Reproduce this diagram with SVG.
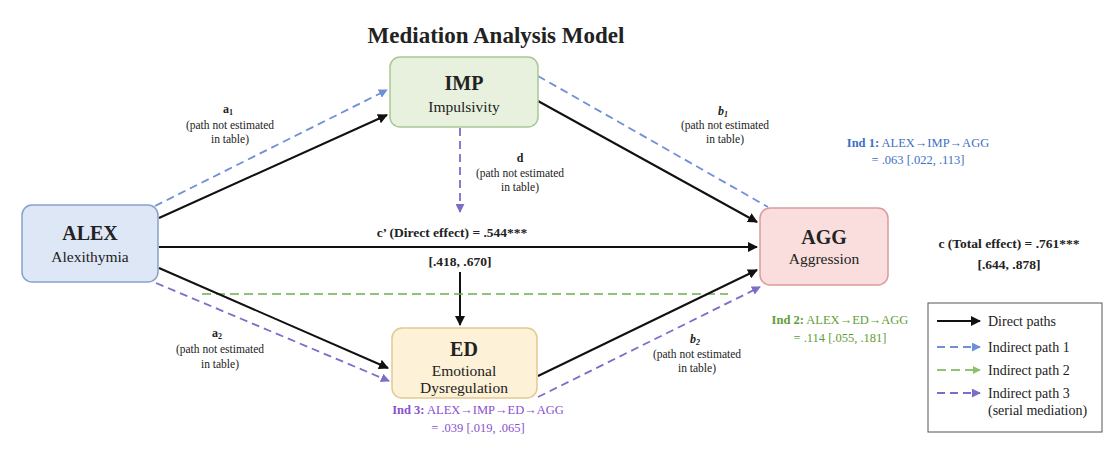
<svg xmlns="http://www.w3.org/2000/svg" width="1110" height="450" viewBox="0 0 1110 450">
<defs>
<marker id="mk" viewBox="0 0 10 10" refX="9" refY="5" markerWidth="5" markerHeight="5" orient="auto" markerUnits="strokeWidth"><path d="M0,0 L10,5 L0,10 z" fill="#111"/></marker>
<marker id="mb" viewBox="0 0 10 10" refX="9" refY="5" markerWidth="5" markerHeight="5" orient="auto" markerUnits="strokeWidth"><path d="M0,0 L10,5 L0,10 z" fill="#6f8fd8"/></marker>
<marker id="mp" viewBox="0 0 10 10" refX="9" refY="5" markerWidth="5" markerHeight="5" orient="auto" markerUnits="strokeWidth"><path d="M0,0 L10,5 L0,10 z" fill="#7a6fc8"/></marker>
<marker id="mg" viewBox="0 0 10 10" refX="9" refY="5" markerWidth="5" markerHeight="5" orient="auto" markerUnits="strokeWidth"><path d="M0,0 L10,5 L0,10 z" fill="#8cc06a"/></marker>
<style>
text{font-family:"Liberation Serif","Times New Roman",serif;fill:#222;text-anchor:middle}
.title{font-size:23px;font-weight:bold}
.nt{font-size:20px;font-weight:bold}
.ns{font-size:15.5px}
.lab{font-size:12px;font-weight:bold}
.sm{font-size:11.5px}
.eff{font-size:13.5px;font-weight:bold}
.ind{font-size:12.5px}
.leg{font-size:14px;text-anchor:start}
.solid{stroke:#111;stroke-width:2;fill:none}
.db{stroke:#6f8fd8;stroke-width:1.8;fill:none;stroke-dasharray:8 5}
.dp{stroke:#7a6fc8;stroke-width:1.8;fill:none;stroke-dasharray:8 5}
.dg{stroke:#6fae4c;stroke-width:1.6;fill:none;stroke-dasharray:9 5}
</style>
</defs>
<rect width="1110" height="450" fill="#fff"/>
<text class="title" x="496" y="43">Mediation Analysis Model</text>

<g id="connectors">
<line class="db" x1="155" y1="206" x2="387" y2="90" marker-end="url(#mb)"/>
<line class="solid" x1="159" y1="218" x2="387" y2="115" marker-end="url(#mk)"/>
<line class="db" x1="538" y1="76" x2="768" y2="207"/>
<line class="solid" x1="538" y1="101" x2="757" y2="222" marker-end="url(#mk)"/>
<line class="solid" x1="159" y1="247" x2="757" y2="247" marker-end="url(#mk)"/>
<line class="dp" x1="460" y1="128" x2="460" y2="212" marker-end="url(#mp)"/>
<line class="solid" x1="460" y1="272" x2="460" y2="325" marker-end="url(#mk)"/>
<line class="dg" x1="202" y1="294" x2="728" y2="294"/>
<line class="solid" x1="159" y1="268" x2="388" y2="368" marker-end="url(#mk)"/>
<line class="dp" x1="156" y1="283" x2="389" y2="381" marker-end="url(#mp)"/>
<line class="solid" x1="538" y1="376" x2="757" y2="270" marker-end="url(#mk)"/>
<line class="dp" x1="538" y1="397" x2="760" y2="287" marker-end="url(#mp)"/>
</g>

<g id="IMP">
<rect x="390" y="57" width="148" height="70" rx="10" fill="#e7f1de" stroke="#a9c897" stroke-width="1.5"/>
<text class="nt" x="464" y="90" font-size="22">IMP</text>
<text class="ns" x="464" y="112">Impulsivity</text>
</g>
<g id="ALEX">
<rect x="22" y="205" width="136" height="77" rx="10" fill="#dee7f5" stroke="#86a1cc" stroke-width="1.5"/>
<text class="nt" x="90" y="240">ALEX</text>
<text class="ns" x="90" y="262">Alexithymia</text>
</g>
<g id="AGG">
<rect x="760" y="208" width="128" height="77" rx="10" fill="#f9dedd" stroke="#d99c9b" stroke-width="1.5"/>
<text class="nt" x="824" y="244">AGG</text>
<text class="ns" x="824" y="264">Aggression</text>
</g>
<g id="ED">
<rect x="392" y="328" width="145" height="70" rx="10" fill="#fdf1d7" stroke="#e3c98f" stroke-width="1.5"/>
<text class="nt" x="464" y="356">ED</text>
<text class="ns" x="464" y="376">Emotional</text>
<text class="ns" x="464" y="393">Dysregulation</text>
</g>

<g id="labels">
<text class="lab" x="228" y="113">a<tspan font-size="8" dy="2">1</tspan></text>
<text class="sm" x="230" y="129">(path not estimated</text>
<text class="sm" x="230" y="143">in table)</text>
<text class="lab" x="723" y="115" font-style="italic">b<tspan font-size="8" dy="2">1</tspan></text>
<text class="sm" x="725" y="129">(path not estimated</text>
<text class="sm" x="725" y="143">in table)</text>
<text class="lab" x="520" y="162" font-weight="normal">d</text>
<text class="sm" x="520" y="177">(path not estimated</text>
<text class="sm" x="520" y="191">in table)</text>
<text class="lab" x="217" y="337">a<tspan font-size="8" dy="2">2</tspan></text>
<text class="sm" x="220" y="353">(path not estimated</text>
<text class="sm" x="220" y="368">in table)</text>
<text class="lab" x="695" y="343" font-style="italic">b<tspan font-size="8" dy="2">2</tspan></text>
<text class="sm" x="697" y="358">(path not estimated</text>
<text class="sm" x="697" y="372">in table)</text>
<text class="eff" x="452" y="237">c’ (Direct effect) = .544***</text>
<text class="eff" x="460" y="266">[.418, .670]</text>
<text class="eff" x="1009" y="248" font-size="15">c (Total effect) = .761***</text>
<text class="eff" x="1009" y="269" font-size="15">[.644, .878]</text>
<text class="ind" x="918" y="147" style="fill:#3d6fc4"><tspan font-weight="bold">Ind 1:</tspan> ALEX→IMP→AGG</text>
<text class="ind" x="918" y="164" style="fill:#3d6fc4">= .063 [.022, .113]</text>
<text class="ind" x="840" y="324" style="fill:#5f9e35"><tspan font-weight="bold">Ind 2:</tspan> ALEX→ED→AGG</text>
<text class="ind" x="840" y="342" style="fill:#5f9e35">= .114 [.055, .181]</text>
<text class="ind" x="478" y="414" font-size="12" style="fill:#8a4fd0"><tspan font-weight="bold">Ind 3:</tspan> ALEX→IMP→ED→AGG</text>
<text class="ind" x="478" y="432" font-size="12" style="fill:#8a4fd0">= .039 [.019, .065]</text>
</g>

<g id="legend">
<rect x="928" y="303" width="174" height="129" fill="#fff" stroke="#555" stroke-width="1"/>
<line class="solid" x1="937" y1="321" x2="980" y2="321" stroke-width="1.5" marker-end="url(#mk)"/>
<text class="leg" x="988" y="326">Direct paths</text>
<line class="db" x1="937" y1="347" x2="980" y2="347" stroke-width="1.5" stroke-dasharray="6 4" marker-end="url(#mb)"/>
<text class="leg" x="988" y="352">Indirect path 1</text>
<line class="dg" x1="937" y1="370" x2="980" y2="370" stroke-width="1.5" stroke-dasharray="6 4" marker-end="url(#mg)"/>
<text class="leg" x="988" y="375">Indirect path 2</text>
<line class="dp" x1="937" y1="393" x2="980" y2="393" stroke-width="1.5" stroke-dasharray="6 4" marker-end="url(#mp)"/>
<text class="leg" x="988" y="398">Indirect path 3</text>
<text class="leg" x="988" y="415">(serial mediation)</text>
</g>
</svg>
